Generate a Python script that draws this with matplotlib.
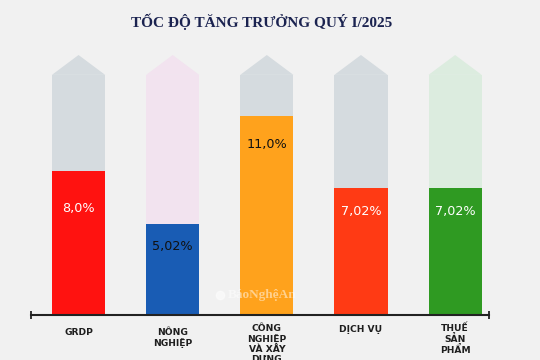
import matplotlib.pyplot as plt
import numpy as np

categories = ["GRDP", "NÔNG\nNGHIỆP", "CÔNG\nNGHIỆP\nVÀ XÂY\nDỰNG", "DỊCH VỤ", "THUẾ\nSẢN\nPHẨM"]
values = [8.0, 5.02, 11.0, 7.02, 7.02]
value_labels = ["8,0%", "5,02%", "11,0%", "7,02%", "7,02%"]
title = "TỐC ĐỘ TĂNG TRƯỞNG QUÝ I/2025"

bar_colors = ["#ff1210", "#195cb4", "#ffa21c", "#ff3a14", "#2f9a22"]
ghost_colors = ["#d5dbdf", "#f2e3ef", "#d5dbdf", "#d5dbdf", "#dcecdf"]
text_colors = ["white", "#111111", "#111111", "white", "white"]
# label offsets below bar top (points) and category label offsets (points)
label_off = [-27, -16, -20, -17, -17]
cat_off = [-9.5, -9.5, -6.5, -7.5, -6]

BG = "#f1f1f1"
shoulder = 13.3
tip = 14.4
w = 0.565

fig = plt.figure(figsize=(5.4, 3.6), dpi=100, facecolor=BG)
ax = fig.add_axes([31 / 540, 45 / 360, 458 / 540, 260 / 360])
ax.set_facecolor(BG)
ax.set_xlim(-0.505, 4.36)
ax.set_ylim(0, tip)
ax.axis("off")

xs = np.arange(len(categories))

# ghost arrows behind bars
ax.bar(xs, [shoulder] * len(xs), width=w, color=ghost_colors, zorder=1)
for x, c in zip(xs, ghost_colors):
    ax.fill([x - w / 2, x, x + w / 2], [shoulder, tip, shoulder], color=c, lw=0, zorder=1)

ax.bar(xs, values, width=w, color=bar_colors, zorder=2)

for x, v, lab, tc, off in zip(xs, values, value_labels, text_colors, label_off):
    ax.annotate(lab, xy=(x, v), xytext=(0, off), textcoords="offset points",
                ha="center", va="center", fontsize=9.2, color=tc,
                family="DejaVu Sans", zorder=3)

# base line with end ticks
ax.plot([-0.505, 4.36], [0, 0], color="#222222", lw=1.5, zorder=4, clip_on=False)
ax.plot([-0.505, 4.36], [0, 0], ls="none", marker="|", ms=6, mew=1.3,
        color="#222222", zorder=4, clip_on=False)

for x, cat, off in zip(xs, categories, cat_off):
    ax.annotate(cat, xy=(x, 0), xytext=(0, off), textcoords="offset points",
                ha="center", va="top", fontsize=6.6, fontweight="bold",
                color="#1e1e1e", linespacing=1.15, annotation_clip=False)

# watermark
ax.plot([1.5], [1.1], marker="o", ms=6, color="white", alpha=0.5, zorder=5)
ax.text(1.58, 1.1, "BáoNghệAn", ha="left", va="center", fontsize=9.5,
        fontweight="bold", family="Liberation Serif", color="white",
        alpha=0.5, zorder=5)

fig.text(262 / 540, 1 - 22 / 360, title, ha="center", va="center",
         fontsize=11, fontweight="bold", family="Liberation Serif", color="#1b2350")

fig.savefig("out.png", dpi=100, facecolor=BG)
